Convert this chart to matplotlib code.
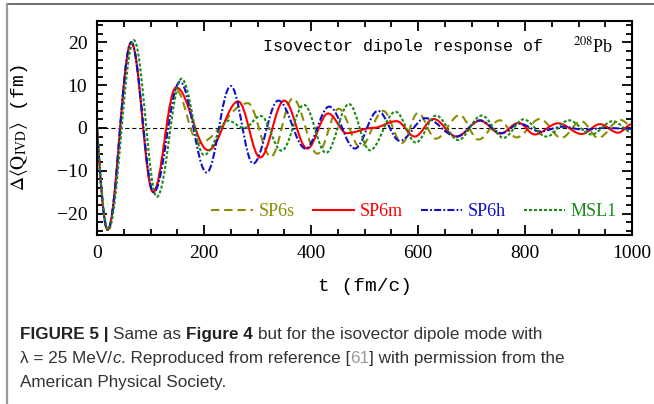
import matplotlib
matplotlib.use('Agg')
import matplotlib.pyplot as plt
from matplotlib.path import Path
from matplotlib.patches import PathPatch
from matplotlib.lines import Line2D

# turning points (t in fm/c, value in fm)
sp6s_t = [0, 20, 64, 105, 147, 190, 282, 325, 366, 412, 452, 492, 535, 570, 600, 633, 678, 713, 753, 784, 828, 868, 905, 937, 978, 1000]
sp6s_y = [0, -23.8, 20.0, -15.0, 9.0, -3.5, 5.8, -6.7, 6.9, -6.0, 4.5, -4.5, 4.0, -3.5, 3.5, -2.5, 3.0, -2.7, 1.8, -2.2, 2.1, -2.3, 1.6, -2.3, 1.9, 0.5]

sp6m_t = [0, 20, 64, 105, 148, 208, 264, 305, 350, 393, 432, 467, 515, 560, 594, 629, 672, 716, 754, 788, 818, 862, 906, 940, 974, 1000]
sp6m_y = [0, -23.8, 20.0, -15.0, 9.5, -5.2, 6.2, -6.9, 6.4, -4.8, 3.4, -1.2, 0.0, 1.6, -2.0, 2.1, -2.0, 1.7, -1.3, 1.2, -1.5, 1.1, -1.4, 0.9, -1.1, 0.9]

sp6h_t = [0, 20, 64, 106, 155, 205, 250, 292, 339, 390, 434, 482, 525, 566, 614, 672, 716, 756, 790, 828, 870, 910, 950, 1000]
sp6h_y = [0, -23.8, 20.0, -15.0, 10.8, -10.4, 9.8, -8.3, 6.4, -4.8, 5.0, -4.8, 4.0, -3.0, 2.3, -2.0, 1.8, -1.2, 1.0, -0.8, 0.3, -0.4, 0.0, -0.2]

msl1_t = [0, 21, 69, 112, 158, 200, 245, 275, 306, 345, 387, 428, 471, 510, 558, 596, 634, 675, 719, 760, 797, 840, 882, 924, 964, 1000]
msl1_y = [0, -23.8, 20.5, -16.1, 11.5, -6.3, 1.7, 0.0, 2.8, -5.3, 5.4, -5.8, 5.6, -5.2, 3.8, -3.4, 2.9, -2.8, 2.9, -2.3, 2.0, -2.0, 1.8, -1.5, 1.6, -1.0]

labels = ['SP6s', 'SP6m', 'SP6h', 'MSL1']
colors = ['#8c8c00', '#ff0000', '#1010c8', '#1a8c1a']
styles = [(0, (6, 3.5)), '-', (0, (5, 1.6, 1.3, 1.6)), (0, (2.2, 1.4))]
series = [(sp6s_t, sp6s_y), (sp6m_t, sp6m_y), (sp6h_t, sp6h_y), (msl1_t, msl1_y)]

W, H = 654, 404
plt.rcParams['lines.scale_dashes'] = False
plt.rcParams['mathtext.fontset'] = 'stix'

fig = plt.figure(figsize=(W / 100, H / 100), dpi=100)
ax = fig.add_axes([97 / W, 1 - 235 / H, 535 / W, 214 / H])


def smooth_path(t, y):
    # cubic segments between turning points (flat tangent at each turning point)
    verts = [(t[0], y[0])]
    codes = [Path.MOVETO]
    for i in range(1, len(t)):
        dt = t[i] - t[i - 1]
        if i == 1:
            c1 = (t[0] + 0.33 * dt, y[0] + 0.53 * (y[1] - y[0]))
            c2 = (t[0] + 0.64 * dt, y[1])
        else:
            c1 = (t[i - 1] + 0.364 * dt, y[i - 1])
            c2 = (t[i] - 0.364 * dt, y[i])
        verts += [c1, c2, (t[i], y[i])]
        codes += [Path.CURVE4] * 3
    return Path(verts, codes)


ax.axhline(0, color='k', lw=0.8, ls=(0, (3, 2)), zorder=1)
handles = []
for (t, y), lab, c, ls in zip(series, labels, colors, styles):
    p = PathPatch(smooth_path(t, y), fill=False, edgecolor=c, lw=1.5, ls=ls, zorder=2)
    ax.add_patch(p)
    handles.append(Line2D([], [], color=c, lw=1.5, ls=ls, label=lab))

ax.set_xlim(0, 1000)
ax.set_ylim(-25, 25)
ax.set_xticks(range(0, 1001, 200))
ax.set_xticks(range(0, 1001, 50), minor=True)
ax.set_yticks([-20, -10, 0, 10, 20])
ax.set_yticks(range(-24, 25, 2), minor=True)
ax.tick_params(which='both', direction='in', top=True, right=True, width=1.3)
ax.tick_params(which='major', length=7, labelsize=14, pad=7)
ax.tick_params(which='minor', length=4)
for s in ax.spines.values():
    s.set_linewidth(1.5)
for lab in ax.get_xticklabels() + ax.get_yticklabels():
    lab.set_fontfamily('Liberation Serif')

ax.set_xlabel('t (fm/c)', family='Liberation Mono', fontsize=14)
ax.xaxis.set_label_coords(0.5, -0.2)
ax.set_ylabel(r'$\Delta\langle\mathrm{Q}_{\mathrm{IVD}}\rangle$ (fm)', family='Liberation Mono', fontsize=14)
ax.yaxis.set_label_coords(-0.125, 0.5)

ax.text(0.31, 0.883, 'Isovector dipole response of', transform=ax.transAxes,
        family='Liberation Mono', fontsize=12, va='center', ha='left')
ax.text(0.89, 0.883, r'$^{208}$Pb', transform=ax.transAxes,
        family='Liberation Serif', fontsize=13, va='center', ha='left')

leg = ax.legend(handles=handles, loc='center', bbox_to_anchor=(0.593, 0.11), ncol=4,
                frameon=False, handlelength=2.3, handletextpad=0.3, columnspacing=1.0,
                labelcolor='linecolor', prop={'family': 'Liberation Serif', 'size': 13})

# outer frame of the figure panel
fig.add_artist(Line2D([7 / W, 1], [1 - 4 / H, 1 - 4 / H], color='#555555', lw=1.2))
fig.add_artist(Line2D([7 / W, 7 / W], [0, 1 - 4 / H], color='#999999', lw=1.6))

# caption
fig.canvas.draw()
renderer = fig.canvas.get_renderer()
cap_font = {'family': 'Liberation Sans', 'size': 12.3}


def text_width(s, **kw):
    t = fig.text(0, 0, s, **cap_font, **kw)
    w = t.get_window_extent(renderer).width
    t.remove()
    return w


space = text_width('a a') - text_width('aa')
caption = [
    [('FIGURE 5 |', {'weight': 'bold', 'color': '#222222'}, True),
     ('Same as', {'color': '#333333'}, True),
     ('Figure 4', {'weight': 'bold', 'color': '#222222'}, True),
     ('but for the isovector dipole mode with', {'color': '#333333'}, False)],
    [('λ = 25 MeV/', {'color': '#333333'}, False),
     ('c', {'style': 'italic', 'color': '#333333'}, False),
     ('. Reproduced from reference [', {'color': '#333333'}, False),
     ('61', {'color': '#9a9a9a'}, False),
     ('] with permission from the', {'color': '#333333'}, False)],
    [('American Physical Society.', {'color': '#333333'}, False)],
]
baselines = [339, 363, 387]
for line, yb in zip(caption, baselines):
    x = 20
    for txt, kw, sp in line:
        t = fig.text(x / W, 1 - yb / H, txt, ha='left', va='baseline', **cap_font, **kw)
        x = t.get_window_extent(renderer).x1 + (space if sp else 0)

fig.savefig('out.png', dpi=100)
